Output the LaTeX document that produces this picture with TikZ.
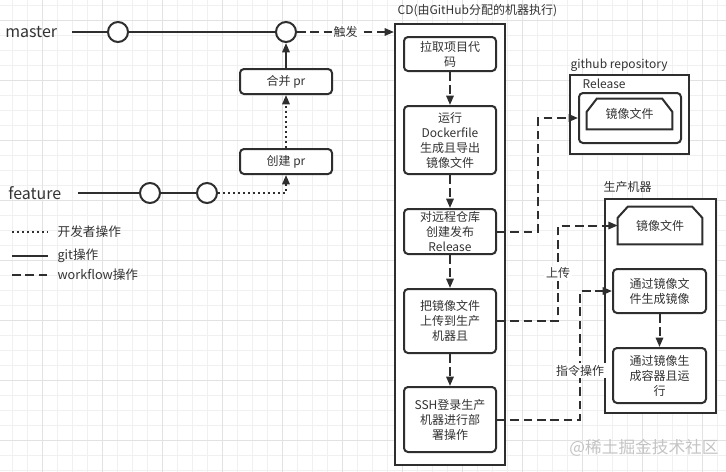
\documentclass[tikz,border=0pt]{standalone}
\usepackage{fontspec}
\setmainfont{Noto Sans CJK SC}
\usetikzlibrary{arrows.meta,calc}
\definecolor{ink}{HTML}{2E2E2E}
\definecolor{txt}{HTML}{333333}
\definecolor{gridminor}{HTML}{F0F0F0}
\definecolor{gridmajor}{HTML}{E2E2E2}
\definecolor{wm}{HTML}{C4C4C4}
\tikzset{
  conn/.style={draw=ink, line width=1.5pt},
  tip/.style={-{Triangle[length=7pt,width=5.5pt]}},
  gitline/.style={conn},
  devline/.style={conn, dash pattern=on 1.5pt off 2.25pt},
  wfline/.style={conn, dash pattern=on 6.5pt off 3.5pt},
  stepbox/.style={draw=ink, line width=1.5pt, rounded corners=3pt, fill=white,
    align=center, text=txt, inner sep=0pt, font=\fontsize{9}{11.25}\selectfont},
  frame/.style={draw=ink, line width=1.5pt, fill=white, inner sep=0pt},
  commit/.style={circle, draw=ink, line width=1.5pt, fill=white, minimum size=15pt, inner sep=0pt},
  lbl/.style={text=txt, inner sep=1pt, font=\fontsize{9}{11}\selectfont},
  branch/.style={text=txt, inner sep=0pt, font=\fontsize{12}{14}\selectfont},
}
\begin{document}
\begin{tikzpicture}[x=0.75pt,y=-0.75pt]
\useasboundingbox (0,0) rectangle (726,472);
\fill[white] (0,0) rectangle (726,472);
% grid
\foreach \k in {0,...,48} {
  \draw[gridminor, line width=0.6pt] ({12.7+15*\k},0) -- ({12.7+15*\k},472);
}
\foreach \k in {0,...,31} {
  \draw[gridminor, line width=0.6pt] (0,{5+15*\k}) -- (726,{5+15*\k});
}
\foreach \k in {0,...,11} {
  \draw[gridmajor, line width=0.6pt] ({42.7+60*\k},0) -- ({42.7+60*\k},472);
}
\foreach \k in {0,...,7} {
  \draw[gridmajor, line width=0.6pt] (0,{20+60*\k}) -- (726,{20+60*\k});
}

% branch labels
\node[branch, anchor=west] (master) at (5,32) {master};
\node[branch, anchor=west] (feature) at (8,193) {feature};
\coordinate (ms) at (72,32);
\coordinate (fs) at (78,193);

% commits
\node[commit] (m1) at (118,32) {};
\node[commit] (m2) at (286,32) {};
\node[commit] (f1) at (150,193) {};
\node[commit] (f2) at (207,193) {};

% pr boxes
\node[stepbox, minimum width=69pt, minimum height=18.75pt] (merge) at (286,81.5) {合并 pr};
\node[stepbox, minimum width=69pt, minimum height=18.75pt] (create) at (286,161.5) {创建 pr};

% CD frame
\node[frame, minimum width=82.5pt, minimum height=330.75pt] (cd) at (450,244.5) {};
\node[lbl, anchor=west] (cdtitle) at (396,11) {CD(由GitHub分配的机器执行)};

\node[stepbox, minimum width=69pt, minimum height=25.5pt] (b1) at (450,54) {拉取项目代\\码};
\node[stepbox, minimum width=69pt, minimum height=51pt] (b2) at (450,140) {运行\\Dockerfile\\生成且导出\\镜像文件};
\node[stepbox, minimum width=69pt, minimum height=33.75pt] (b3) at (450,231.5) {对远程仓库\\创建发布\\Release};
\node[stepbox, minimum width=69pt, minimum height=48pt] (b4) at (450,321) {把镜像文件\\上传到生产\\机器且};
\node[stepbox, minimum width=69pt, minimum height=48.75pt] (b5) at (450,419.5) {SSH登录生产\\机器进行部\\署操作};

% github repository
\node[lbl, anchor=west] (repotitle) at (569,65) {github repository};
\node[frame, minimum width=89.25pt, minimum height=59.25pt] (repo) at (629.5,114.5) {};
\node[lbl, anchor=west] (reltitle) at (581,84) {Release};
\node[stepbox, minimum width=76.5pt, minimum height=37.5pt] (rel) at (630,118) {};
\node[lbl, minimum width=63.75pt, minimum height=22.5pt, inner sep=0pt] (img1) at (629.5,114) {镜像文件};
\draw[ink, line width=1.5pt, line join=miter]
  (img1.south west) -- ($(img1.north west)+(0,13)$) -- ($(img1.north west)+(10,0)$)
  -- ($(img1.north east)+(-10,0)$) -- ($(img1.north east)+(0,13)$) -- (img1.south east) -- cycle;

% production machine
\node[lbl, anchor=west] (prodtitle) at (602,187) {生产机器};
\node[frame, minimum width=83.25pt, minimum height=160.5pt] (prod) at (660.5,306) {};
\node[lbl, minimum width=63pt, minimum height=27.75pt, inner sep=0pt] (img2) at (660,225.5) {镜像文件};
\draw[ink, line width=1.5pt, line join=miter]
  (img2.south west) -- ($(img2.north west)+(0,11)$) -- ($(img2.north west)+(10,0)$)
  -- ($(img2.north east)+(-10,0)$) -- ($(img2.north east)+(0,11)$) -- (img2.south east) -- cycle;
\node[stepbox, minimum width=69.75pt, minimum height=33pt] (g1) at (659.5,291) {通过镜像文\\件生成镜像};
\node[stepbox, minimum width=69.75pt, minimum height=41.25pt] (g2) at (659.5,375.5) {通过镜像生\\成容器且运\\行};

% git connectors
\draw[gitline] (ms) -- (m1) -- (m2);
\draw[gitline] (fs) -- (f1) -- (f2);
\draw[gitline, tip] (merge) -- (m2);
\draw[devline, tip] (create) -- (merge);
\draw[devline, tip] (f2) -| (create);
\draw[wfline, tip] (m2) -- (m2 -| cd.west) node[midway, lbl, fill=white, inner sep=1.5pt] (trig) {触发};

% workflow steps
\draw[wfline, tip] (b1) -- (b2);
\draw[wfline, tip] (b2) -- (b3);
\draw[wfline, tip] (b3) -- (b4);
\draw[wfline, tip] (b4) -- (b5);
\draw[wfline, tip] (g1) -- (g2);

\draw[wfline, tip] (b3.east) -- ++(41,0) |- (rel.west);
\draw[wfline, tip] (b4.east) -- ++(61,0) |- node[pos=0.25, lbl, fill=white, inner sep=1.5pt] (up) {上传} (img2.west);
\draw[wfline, tip] (b5.east) -- ++(83,0) |- node[pos=0.19, lbl, fill=white, inner sep=1.5pt] (cmd) {指令操作} (g1.west);

% legend
\coordinate (l1a) at (12,232); \coordinate (l1b) at (48,232);
\coordinate (l2a) at (12,256); \coordinate (l2b) at (48,256);
\coordinate (l3a) at (12,275); \coordinate (l3b) at (48,275);
\draw[devline, line width=1.2pt] (l1a) -- (l1b);
\draw[gitline, line width=1.2pt] (l2a) -- (l2b);
\draw[wfline, line width=1.2pt] (l3a) -- (l3b);
\node[lbl, anchor=west, font=\fontsize{9.5}{11}\selectfont] (leg1) at (56,232) {开发者操作};
\node[lbl, anchor=west, font=\fontsize{9.5}{11}\selectfont] (leg2) at (56,256) {git操作};
\node[lbl, anchor=west, font=\fontsize{9.5}{11}\selectfont] (leg3) at (56,275) {workflow操作};

% watermark
\node[text=wm, inner sep=0pt, font=\fontsize{12.5}{14}\selectfont] (wmark) at (644,448) {@稀土掘金技术社区};
\end{tikzpicture}
\end{document}
